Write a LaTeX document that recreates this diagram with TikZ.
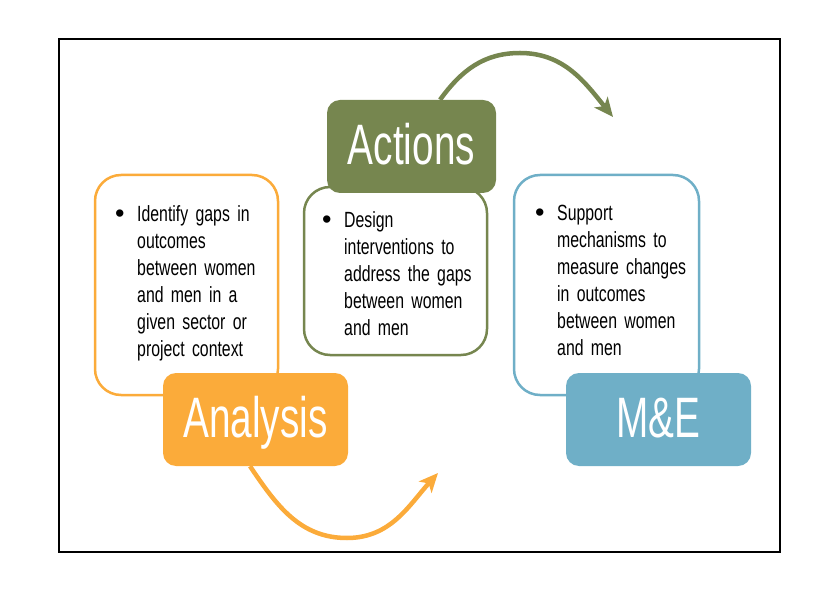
\documentclass[tikz,border=0pt]{standalone}
\usepackage{fontspec}
\setmainfont{Liberation Sans}
\newfontfamily\labelfont[FakeStretch=0.68]{Liberation Sans}
\newfontfamily\bodyfont[FakeStretch=0.72]{Liberation Sans}
\usetikzlibrary{arrows.meta,positioning}

\definecolor{analysisorange}{RGB}{251,171,58}
\definecolor{actionsgreen}{RGB}{118,134,79}
\definecolor{meblue}{RGB}{111,175,199}

\newcommand{\bulletlines}[1]{\leftskip=22pt\noindent
  \llap{\hbox to 22pt{\rmfamily\fontsize{27}{27}\selectfont\raisebox{-1pt}{\textbullet}\hfil}}#1\par}

\begin{document}
\begin{tikzpicture}
  [x=1pt,y=1pt,
   textbox/.style={draw,line width=2.5pt,rounded corners=26pt,fill=white},
   labelbox/.style={rounded corners=13pt,minimum width=185pt,minimum height=93pt,
     inner sep=0pt,text=white,text height=41pt,text depth=5pt,
     font=\labelfont\fontsize{57}{57}\selectfont},
   points/.style={anchor=north west,inner sep=0pt,text width=175pt,align=left,
     font=\bodyfont\fontsize{22}{27}\selectfont},
   cyclearrow/.style={line width=4.5pt,-{Stealth[length=19pt,width=17pt,inset=5pt]}}]
  \useasboundingbox (0,0) rectangle (834,600);
  \draw[line width=2pt] (59,561) rectangle (780,48);
  % analysis
  \node[textbox,draw=analysisorange,minimum width=183pt,minimum height=220pt] (analysisbox) at (186.5,315) {};
  \node[labelbox,fill=analysisorange] (analysis) at (255.5,180.5) {Analysis};
  \node[points] (analysistext) at (115,395)
    {\bulletlines{Identify gaps in\\outcomes\\between women\\and men in a\\given sector or\\project context}};
  % actions
  \node[textbox,draw=actionsgreen,minimum width=183pt,minimum height=168pt] (actionsbox) at (395.5,329) {};
  \node[labelbox,fill=actionsgreen,minimum width=169pt] (actions) at (411.5,453.5) {Actions};
  \node[points] (actionstext) at (322,389)
    {\bulletlines{Design\\interventions to\\address the gaps\\between women\\and men}};
  % m&e
  \node[textbox,draw=meblue,minimum width=185pt,minimum height=220pt] (mebox) at (606.5,315) {};
  \node[labelbox,fill=meblue] (me) at (658.5,180.5) {M\&E};
  \node[points] (metext) at (535,395)
    {\bulletlines{Support\\mechanisms to\\measure changes\\in outcomes\\between women\\and men}};
  % arrows
  \coordinate (analysislow) at (347,62);
  \coordinate (analysistip) at (438,127);
  \coordinate (actionshigh) at (520,547);
  \coordinate (actionstip) at (613,483);
  \draw[cyclearrow,analysisorange] ([xshift=-5.5pt]analysis.south)
    to[out=-56,in=180] (analysislow) to[out=0,in=-132] (analysistip);
  \draw[cyclearrow,actionsgreen] ([xshift=28.5pt]actions.north)
    to[out=54,in=180] (actionshigh) to[out=0,in=129] (actionstip);
\end{tikzpicture}
\end{document}
